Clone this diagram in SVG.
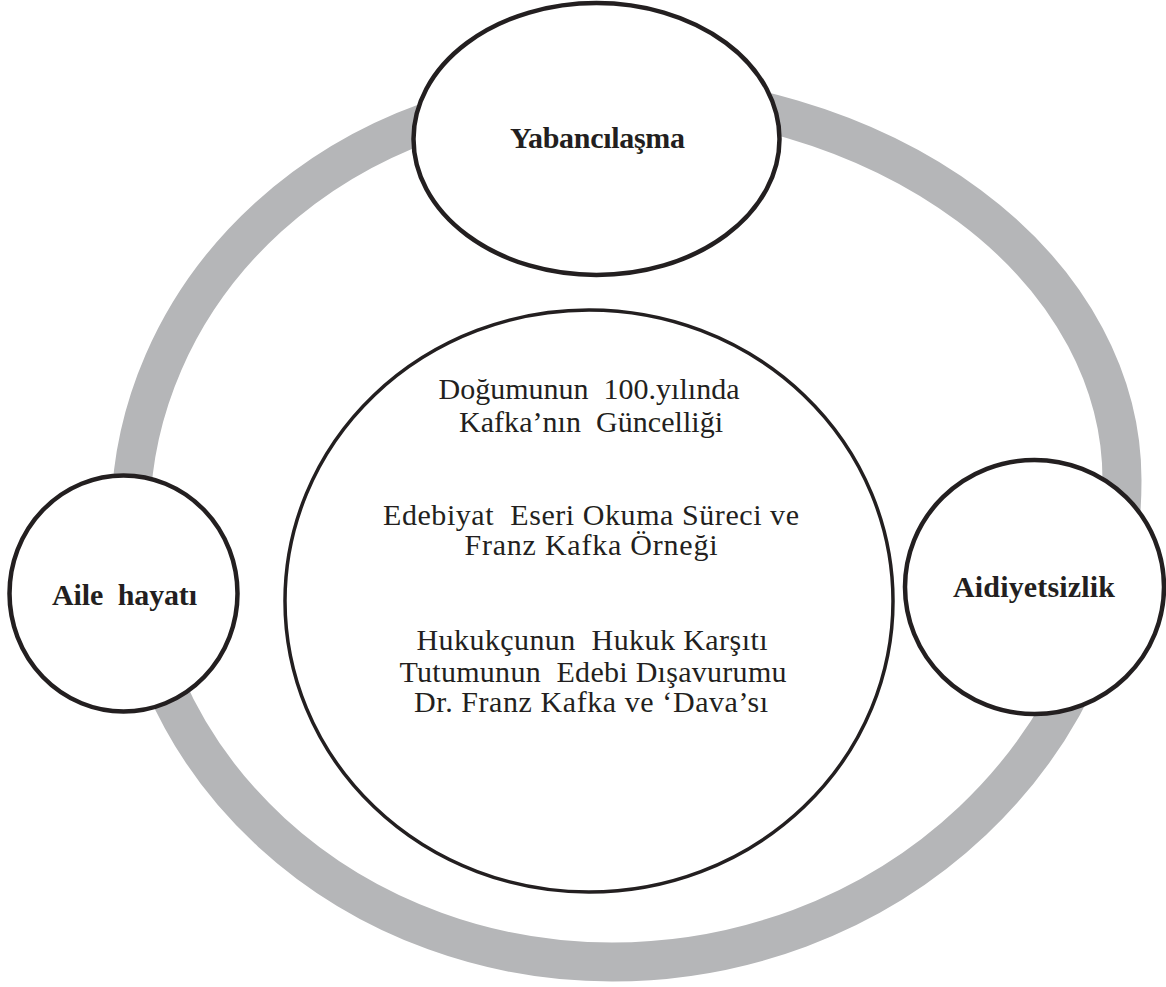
<svg xmlns="http://www.w3.org/2000/svg" width="1166" height="987" viewBox="0 0 1166 987">
  <style>
    .ring { fill: none; stroke: #b5b6b8; stroke-width: 39; }
    .node { fill: #ffffff; stroke: #231f20; stroke-width: 4.5; }
    .center { fill: #ffffff; stroke: #231f20; stroke-width: 3.5; }
    .lbl { font-family: "Liberation Serif", "Times New Roman", serif; font-weight: bold; font-size: 30px; fill: #231f20; text-anchor: middle; }
    .txt { font-family: "Liberation Serif", "Times New Roman", serif; font-size: 30px; fill: #231f20; text-anchor: middle; }
  </style>
  <rect x="0" y="0" width="1166" height="987" fill="#ffffff"/>
  <g id="connectors">
    <path class="ring" d="M130.5,520 A469.5,428 0 0 1 600,92 A522,388 0 0 1 1122,480 A510,482 0 0 1 612,962 A481.5,442 0 0 1 130.5,520 Z"/>
  </g>
  <g id="node-center">
    <ellipse class="center" cx="589" cy="601" rx="304" ry="291"/>
    <text class="txt" xml:space="preserve" x="589" y="399" textLength="301" lengthAdjust="spacing">Doğumunun  100.yılında</text>
    <text class="txt" xml:space="preserve" x="591" y="432" textLength="264" lengthAdjust="spacing">Kafka’nın  Güncelliği</text>
    <text class="txt" xml:space="preserve" x="591" y="525" textLength="416" lengthAdjust="spacing">Edebiyat  Eseri Okuma Süreci ve</text>
    <text class="txt" xml:space="preserve" x="591" y="555" textLength="253" lengthAdjust="spacing">Franz Kafka Örneği</text>
    <text class="txt" xml:space="preserve" x="592" y="650" textLength="351" lengthAdjust="spacing">Hukukçunun  Hukuk Karşıtı</text>
    <text class="txt" xml:space="preserve" x="593" y="682" textLength="387" lengthAdjust="spacing">Tutumunun  Edebi Dışavurumu</text>
    <text class="txt" xml:space="preserve" x="591" y="712" textLength="354" lengthAdjust="spacing">Dr. Franz Kafka ve ‘Dava’sı</text>
  </g>
  <g id="node-yabancilasma">
    <ellipse class="node" cx="596.5" cy="139" rx="183" ry="136"/>
    <text class="lbl" x="597.5" y="148" textLength="175" lengthAdjust="spacing">Yabancılaşma</text>
  </g>
  <g id="node-aile">
    <ellipse class="node" cx="123.5" cy="593.5" rx="114" ry="118"/>
    <text class="lbl" xml:space="preserve" x="124.5" y="605" textLength="145" lengthAdjust="spacing">Aile  hayatı</text>
  </g>
  <g id="node-aidiyetsizlik">
    <ellipse class="node" cx="1034.5" cy="587" rx="129.5" ry="127"/>
    <text class="lbl" x="1034" y="597" textLength="162" lengthAdjust="spacing">Aidiyetsizlik</text>
  </g>
</svg>
